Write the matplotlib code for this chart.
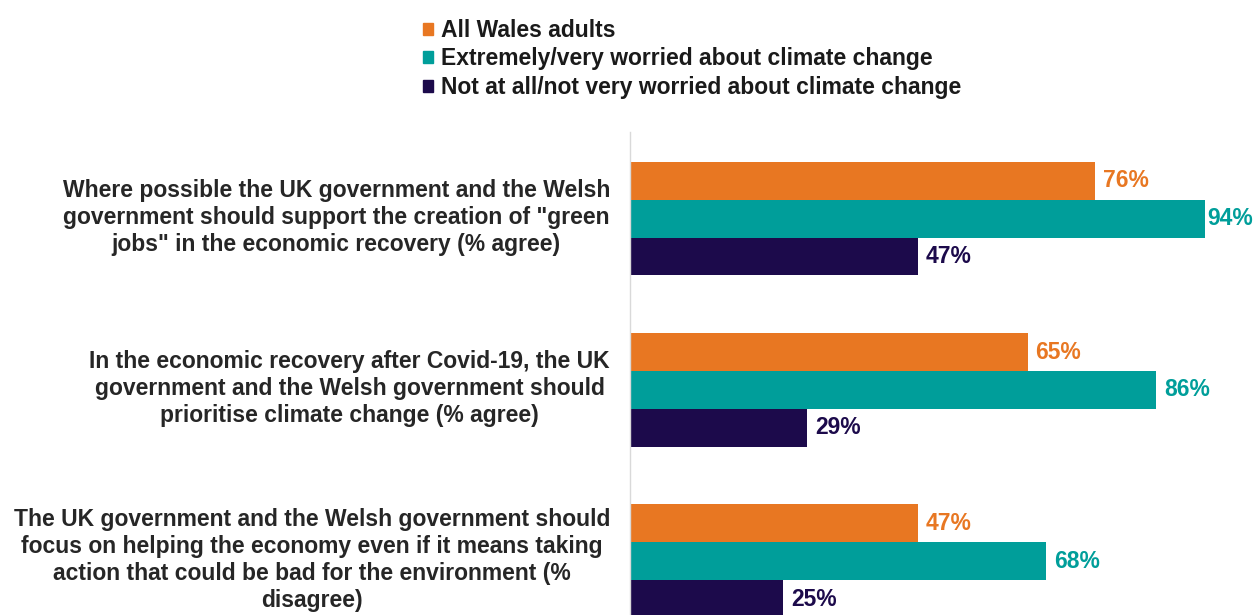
import matplotlib
matplotlib.use("Agg")
import matplotlib.pyplot as plt
from matplotlib.patches import Patch
import numpy as np

plt.rcParams['font.family'] = ['Liberation Sans', 'DejaVu Sans']
plt.rcParams['font.weight'] = 'bold'

categories = [
    'Where possible the UK government and the Welsh\ngovernment should support the creation of "green\njobs" in the economic recovery (% agree)',
    'In the economic recovery after Covid-19, the UK\ngovernment and the Welsh government should\nprioritise climate change (% agree)',
    'The UK government and the Welsh government should\nfocus on helping the economy even if it means taking\naction that could be bad for the environment (%\ndisagree)',
]
series_names = [
    'All Wales adults',
    'Extremely/very worried about climate change',
    'Not at all/not very worried about climate change',
]
all_wales = [76, 65, 47]
worried = [94, 86, 68]
not_worried = [47, 29, 25]
colors = ['#E87722', '#009E9A', '#1C0A4B']

series = [all_wales, worried, not_worried]

FS = 16.5
W, H = 1254, 615
fig = plt.figure(figsize=(W / 100, H / 100), dpi=100)
ax = fig.add_axes([630 / W, 0, 1 - 630 / W, 1 - 132 / H])

bar_h = 38 / 172
y = np.arange(len(categories))
xmax = 102
for i, (vals, c) in enumerate(zip(series, colors)):
    ypos = y + (i - 1) * bar_h
    ax.barh(ypos, vals, height=bar_h, color=c, label=series_names[i])
    for yy, v in zip(ypos, vals):
        txt = f'{v}%'
        lbl_w = 7.6
        x = v + 1.3
        if x + lbl_w > xmax:
            x = xmax - lbl_w
        ax.text(x, yy, txt, va='center', ha='left', color=c,
                fontsize=FS, fontweight='bold')

ax.set_xlim(0, xmax)
ax.set_ylim(2.314, -0.506)
ax.set_yticks(y)
ax.set_yticklabels([])
ax.tick_params(axis='y', length=0)
for yi, cat in zip(y, categories):
    ax.annotate(cat, xy=(0, yi), xycoords=('axes fraction', 'data'),
                xytext=(-20, 1), textcoords='offset pixels',
                ha='right', va='center', multialignment='center',
                fontsize=FS, fontweight='bold', color='#262626',
                linespacing=1.22, annotation_clip=False)
ax.set_xticks([])
for s in ['top', 'right', 'bottom']:
    ax.spines[s].set_visible(False)
ax.spines['left'].set_color('#D9D9D9')
ax.spines['left'].set_linewidth(1)

handles = [Patch(color=c) for c in colors]
fig.legend(handles, series_names, loc='upper left', bbox_to_anchor=(423 / W, 1 - 19 / H),
           frameon=False, handlelength=0.45, handleheight=0.45,
           handletextpad=0.33, labelspacing=0.24, borderaxespad=0, borderpad=0,
           labelcolor='#1A1A1A', prop={'weight': 'bold', 'size': FS})

fig.savefig('out.png', dpi=100)
